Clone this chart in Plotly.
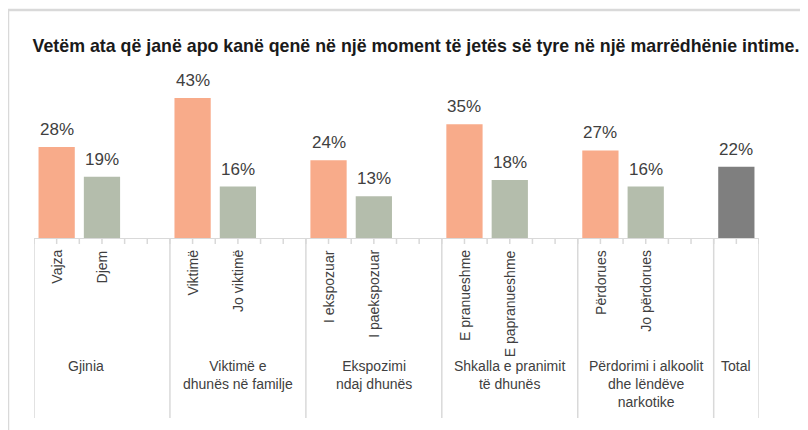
import plotly.graph_objects as go

# ---- data ----
title_text = "Vetëm ata që janë apo kanë qenë në një moment të jetës së tyre në një marrëdhënie intime."
group_labels = ["Gjinia", "Viktimë e<br>dhunës në familje", "Ekspozimi<br>ndaj dhunës",
                "Shkalla e pranimit<br>të dhunës", "Përdorimi i alkoolit<br>dhe lëndëve<br>narkotike", "Total"]
sub_labels = [["Vajza", "Djem"], ["Viktimë", "Jo viktimë"], ["I ekspozuar", "I paekspozuar"],
              ["E pranueshme", "E papranueshme"], ["Përdorues", "Jo përdorues"], [""]]
values = [[28, 19], [43, 16], [24, 13], [35, 18], [27, 16], [22]]

# ---- styles ----
C_FIRST = "#F8AB8A"
C_SECOND = "#B4BDAC"
C_TOTAL = "#7F7F7F"
GRID = "#D9D9D9"
TXT = "#404040"
FONT = "Liberation Sans"

OFF = 8  # page body margin in the browser
W, H = 808 - OFF, 430 - OFF
L, R_PX, T, B_PX = 34, 759, 70, 239  # plot area edges in screen pixels
ppx = lambda px: (px - L) / (R_PX - L)
ppy = lambda py: (B_PX - py) / (B_PX - T)

xs, ys, cols, subs = [], [], [], []
group_ranges = []
pos = 0
for subs_g, vals_g in zip(sub_labels, values):
    n = len(vals_g)
    slots = n + 1 if n > 1 else n
    group_ranges.append((pos - 0.5, pos + slots - 0.5))
    for j, (s, v) in enumerate(zip(subs_g, vals_g)):
        xs.append(pos + j)
        ys.append(v)
        subs.append(s)
        if n == 1:
            cols.append(C_TOTAL)
        else:
            cols.append(C_FIRST if j == 0 else C_SECOND)
    pos += slots
n_slots = pos

fig = go.Figure(go.Bar(x=xs, y=ys, marker=dict(color=cols, line=dict(width=0)),
                       width=0.8, hoverinfo="skip"))

ymax = 51.5
shapes = []
annotations = []

# axis baseline
shapes.append(dict(type="line", xref="x", yref="y", x0=-0.5, x1=n_slots - 0.5, y0=0, y1=0,
                   line=dict(color=GRID, width=2)))
# small ticks at every half slot
k = 0
while k <= 2 * n_slots:
    xv = -0.5 + k * 0.5
    shapes.append(dict(type="line", xref="x", yref="paper", x0=xv, x1=xv,
                       y0=ppy(239), y1=ppy(244), line=dict(color=GRID, width=1.5)))
    k += 1
# group dividers
edges = sorted(set([a for a, b in group_ranges] + [b for a, b in group_ranges]))
for e in edges:
    shapes.append(dict(type="line", xref="x", yref="paper", x0=e, x1=e,
                       y0=ppy(239), y1=ppy(418), line=dict(color=GRID, width=1.5)))
# outer frame (partial)
shapes.append(dict(type="line", xref="paper", yref="paper", x0=ppx(5), x1=ppx(812),
                   y0=ppy(10), y1=ppy(10), line=dict(color=GRID, width=2.5)))
shapes.append(dict(type="line", xref="paper", yref="paper", x0=ppx(8), x1=ppx(8),
                   y0=ppy(9), y1=ppy(435), line=dict(color=GRID, width=2.5)))

# value labels
for x, y in zip(xs, ys):
    annotations.append(dict(x=x, y=y, xref="x", yref="y", text=f"{y}%", showarrow=False,
                            yanchor="bottom", yshift=6,
                            font=dict(family=FONT, size=17, color=TXT)))
# sub-category labels
for x, s in zip(xs, subs):
    if s:
        annotations.append(dict(x=x, y=ppy(248), xref="x", yref="paper", text=s, showarrow=False,
                                textangle=-90, yanchor="top", xanchor="center",
                                font=dict(family=FONT, size=14, color=TXT)))
# group labels
for gi, (lab, (a, b)) in enumerate(zip(group_labels, group_ranges)):
    shift = -16 if gi == 0 else 0
    annotations.append(dict(x=(a + b) / 2, y=ppy(356), xref="x", yref="paper", text=lab,
                            showarrow=False, yanchor="top", xanchor="center", xshift=shift,
                            align="center",
                            font=dict(family=FONT, size=14, color=TXT)))

fig.update_layout(
    width=W, height=H,
    margin=dict(l=L - OFF, r=W - (R_PX - OFF), t=T - OFF, b=H - (B_PX - OFF), pad=0),
    paper_bgcolor="white", plot_bgcolor="white",
    title=dict(text=f"<b>{title_text}</b>", x=(416 - OFF) / W, xanchor="center",
               y=1 - (46 - OFF) / H, yanchor="middle",
               font=dict(family=FONT, size=17.8, color="#1a1a1a")),
    xaxis=dict(range=[-0.5, n_slots - 0.5], visible=False, fixedrange=True),
    yaxis=dict(range=[0, ymax], visible=False, fixedrange=True),
    showlegend=False,
    shapes=shapes,
    annotations=annotations,
)

fig.write_html("out.html")
